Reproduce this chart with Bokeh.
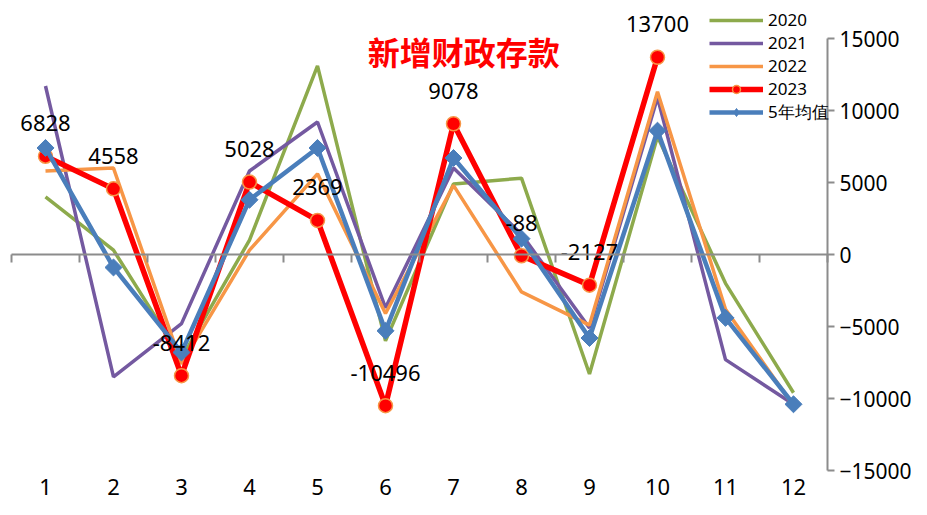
from math import pi
from bokeh.plotting import figure
from bokeh.models import (Range1d, LinearAxis, FixedTicker, Legend, LegendItem,
                          Label, ColumnDataSource)
from bokeh.core.properties import value
from bokeh.embed import file_html
from bokeh.resources import INLINE

# ---------------- data ----------------
months = [1, 2, 3, 4, 5, 6, 7, 8, 9, 10, 11, 12]
month_labels = ["1", "2", "3", "4", "5", "6", "7", "8", "9", "10", "11", "12"]
y2020 = [4000, 300, -7200, 1000, 13100, -6000, 4900, 5300, -8300, 8200, -2000, -9600]
y2021 = [11700, -8500, -4800, 5800, 9200, -3700, 6000, 1400, -5100, 10900, -7300, -10400]
y2022 = [5800, 6000, -7600, 300, 5600, -4100, 4800, -2600, -4900, 11300, -3800, -10500]
y2023 = [6828, 4558, -8412, 5028, 2369, -10496, 9078, -88, -2127, 13700]
avg5 = [7400, -900, -6800, 3800, 7400, -5300, 6700, 1100, -5800, 8600, -4400, -10400]
y_ticks = [-15000, -10000, -5000, 0, 5000, 10000, 15000]
title_text = "新增财政存款"

FONT = "Noto Sans"

# layout constants (pixels)
W, H = 911, 499
PLOT_L, CAT_W = 11, 68          # left edge of category 1 and category width
Y_TOP_PX, Y_BOT_PX = 38, 470     # pixel rows of +15000 and -15000
YMIN, YMAX = y_ticks[0], y_ticks[-1]
upp = (YMAX - YMIN) / (Y_BOT_PX - Y_TOP_PX)

x_range = Range1d(0.5 - PLOT_L / CAT_W, 0.5 + (W - PLOT_L) / CAT_W)
y_range = Range1d(YMIN - (H - Y_BOT_PX) * upp, YMAX + Y_TOP_PX * upp)

p = figure(width=W, height=H, output_backend="svg", toolbar_location=None,
           x_range=x_range, y_range=y_range,
           x_axis_location=None, y_axis_location=None,
           min_border=0, min_border_left=0, min_border_right=0,
           min_border_top=0, min_border_bottom=0)
p.outline_line_color = None
p.xgrid.visible = False
p.ygrid.visible = False
p.background_fill_color = "white"

# category axis crossing at zero (tick marks at category boundaries, no labels)
bounds = [m - 0.5 for m in months] + [months[-1] + 0.5]
zero_axis = LinearAxis(fixed_location=0, ticker=FixedTicker(ticks=bounds),
                       bounds=(bounds[0], bounds[-1]),
                       major_label_overrides={b: "" for b in bounds},
                       axis_line_color="#8c8c8c", axis_line_width=2,
                       major_tick_line_color="#8c8c8c", major_tick_line_width=2,
                       major_tick_in=0, major_tick_out=8,
                       minor_tick_line_color=None,
                       major_label_text_color=None)
p.add_layout(zero_axis, "below")

# month labels along the bottom
label_axis = LinearAxis(fixed_location=YMIN, ticker=FixedTicker(ticks=months),
                        major_label_overrides={m: l for m, l in zip(months, month_labels)},
                        axis_line_color=None, major_tick_line_color=None,
                        minor_tick_line_color=None,
                        major_label_text_font=FONT, major_label_text_font_size="22px",
                        major_label_text_color="black", major_label_standoff=2)
p.add_layout(label_axis, "below")

# right y axis
y_axis = LinearAxis(fixed_location=bounds[-1], ticker=FixedTicker(ticks=y_ticks),
                    bounds=(YMIN, YMAX),
                    axis_line_color="#8c8c8c", axis_line_width=2,
                    major_tick_line_color="#8c8c8c", major_tick_line_width=2,
                    major_tick_in=0, major_tick_out=7, minor_tick_line_color=None,
                    major_label_text_font=FONT, major_label_text_font_size="21px",
                    major_label_text_color="black", major_label_standoff=5)
p.add_layout(y_axis, "right")

# ---------------- series ----------------
r20 = p.line(months, y2020, line_color="#8DAA4C", line_width=3.5)
r21 = p.line(months, y2021, line_color="#7459A0", line_width=3.5)
r22 = p.line(months, y2022, line_color="#F79646", line_width=3.5)
r23l = p.line(months[:len(y2023)], y2023, line_color="#FF0000", line_width=5.5)
r23m = p.scatter(months[:len(y2023)], y2023, marker="circle", size=14,
                 fill_color="#FF0000", line_color="#F79646", line_width=1.5)
ravl = p.line(months, avg5, line_color="#4A7EBB", line_width=4.5)
# diamond glyph (drawn under the rotated squares) used for the legend swatch
rav_leg = p.scatter(months, avg5, marker="diamond", size=13,
                    fill_color="#4A7EBB", line_color="#4A7EBB")
ravm = p.scatter(months, avg5, marker="square", angle=pi / 4, size=12,
                 fill_color="#4A7EBB", line_color="#4A7EBB", line_width=1)

# data labels for 2023
lab_src = ColumnDataSource(dict(x=months[:len(y2023)], y=y2023,
                                t=[str(v) for v in y2023]))
p.text(x="x", y="y", text="t", source=lab_src, text_align="center",
       text_baseline="middle", y_offset=-33, text_font=value(FONT),
       text_font_size="22px", text_color="black")

# title
p.add_layout(Label(x=7.15, y=14100, text=title_text, text_align="center",
                   text_baseline="middle", text_font="Noto Sans CJK SC",
                   text_font_style="bold", text_font_size="32px", text_color="#FF0000"))

legend = Legend(items=[
    LegendItem(label="2020", renderers=[r20]),
    LegendItem(label="2021", renderers=[r21]),
    LegendItem(label="2022", renderers=[r22]),
    LegendItem(label="2023", renderers=[r23l, r23m]),
    LegendItem(label="5年均值", renderers=[ravl, rav_leg]),
], location=(709, 375), glyph_width=54, glyph_height=20, label_height=20,
    label_standoff=5, spacing=0, padding=0, margin=0,
    border_line_color=None, background_fill_alpha=0,
    label_text_font=FONT, label_text_font_size="17px", label_text_color="black")
p.add_layout(legend)

open("out.html", "w").write(file_html(p, INLINE))
